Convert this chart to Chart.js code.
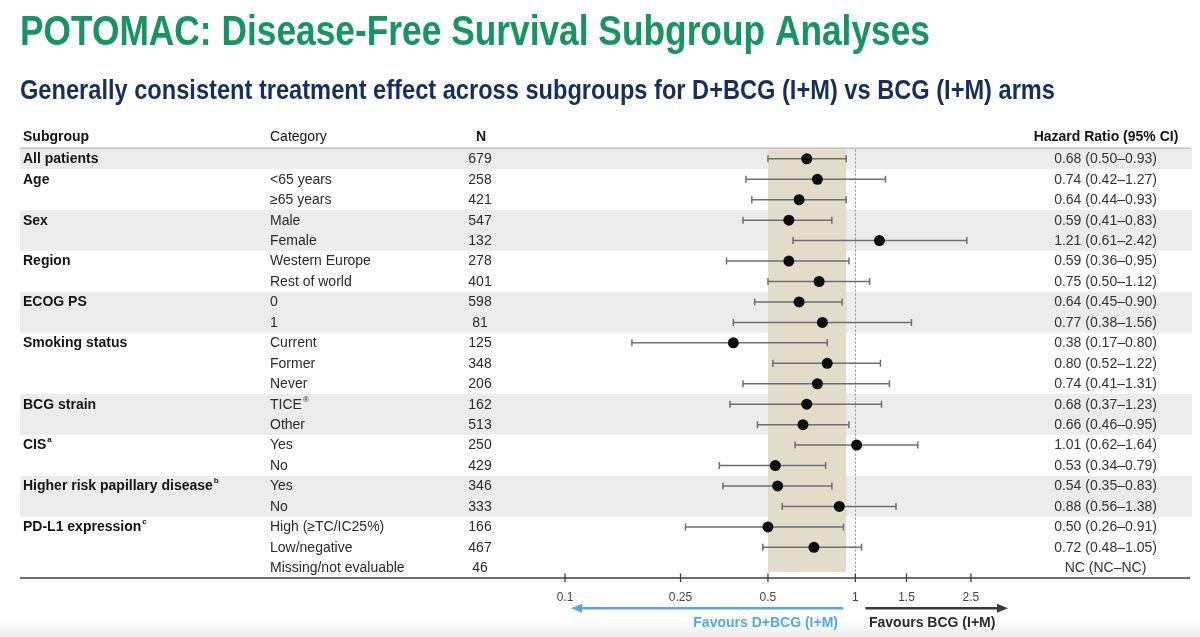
<!DOCTYPE html>
<html>
<head>
<meta charset="utf-8">
<script src="https://cdn.jsdelivr.net/npm/chart.js@4.4.1/dist/chart.umd.min.js"></script>
<style>
  html, body { margin: 0; padding: 0; background: #fff; }
  canvas { display: block; }
</style>
</head>
<body>
<canvas id="forest" width="1200" height="637"></canvas>
<script>
const FONT = '"Liberation Sans", Arial, sans-serif';

// subgroup blocks (rows are listed in order below)
const groupNames = ["All patients", "Age", "Sex", "Region", "ECOG PS", "Smoking status",
    "BCG strain", "CIS", "Higher risk papillary disease", "PD-L1 expression"];
const groupSizes = [1, 2, 2, 2, 2, 3, 2, 2, 2, 3];
const groupNotes = ["", "", "", "", "", "", "", "a", "b", "c"];

const categories = ["", "<65 years", "≥65 years", "Male", "Female", "Western Europe", "Rest of world",
    "0", "1", "Current", "Former", "Never", "TICE", "Other", "Yes", "No", "Yes", "No",
    "High (≥TC/IC25%)", "Low/negative", "Missing/not evaluable"];
const categoryNotes = ["", "", "", "", "", "", "", "", "", "", "", "", "®", "", "", "", "", "", "", "", ""];
const nValues = [679, 258, 421, 547, 132, 278, 401, 598, 81, 125, 348, 206, 162, 513, 250, 429, 346, 333, 166, 467, 46];

const hazardRatio = [0.68, 0.74, 0.64, 0.59, 1.21, 0.59, 0.75, 0.64, 0.77, 0.38, 0.80, 0.74, 0.68, 0.66, 1.01, 0.53, 0.54, 0.88, 0.50, 0.72, null];
const ciLower = [0.50, 0.42, 0.44, 0.41, 0.61, 0.36, 0.50, 0.45, 0.38, 0.17, 0.52, 0.41, 0.37, 0.46, 0.62, 0.34, 0.35, 0.56, 0.26, 0.48, null];
const ciUpper = [0.93, 1.27, 0.93, 0.83, 2.42, 0.95, 1.12, 0.90, 1.56, 0.80, 1.22, 1.31, 1.23, 0.95, 1.64, 0.79, 0.83, 1.38, 0.91, 1.05, null];

const tickValues = [0.1, 0.25, 0.5, 1, 1.5, 2.5];
const tickLabels = ["0.1", "0.25", "0.5", "1", "1.5", "2.5"];

const titleText = "POTOMAC: Disease-Free Survival Subgroup Analyses";
const subtitleText = "Generally consistent treatment effect across subgroups for D+BCG (I+M) vs BCG (I+M) arms";

function hrLabel(i) {
    if (hazardRatio[i] === null) return "NC (NC\u2013NC)";
    return `${hazardRatio[i].toFixed(2)} (${ciLower[i].toFixed(2)}\u2013${ciUpper[i].toFixed(2)})`;
}

// draw text squeezed/stretched horizontally to a given width
function fitText(ctx, text, x, y, width) {
    const w = ctx.measureText(text).width;
    ctx.save();
    ctx.translate(x, y);
    ctx.scale(width / w, 1);
    ctx.fillText(text, 0, 0);
    ctx.restore();
}

function textWithNote(ctx, text, note, x, y, size, weight) {
    ctx.font = `${weight} ${size}px ${FONT}`;
    ctx.fillText(text, x, y);
    if (!note) return;
    const w = ctx.measureText(text).width;
    ctx.font = `${weight} ${Math.round(size * 0.6)}px ${FONT}`;
    ctx.fillText(note, x + w + 1, y - size * 0.38);
}

const forestPlugin = {
    id: "forest",
    beforeDraw(chart) {
        const { ctx, chartArea } = chart;
        const xs = chart.scales.x;
        const ys = chart.scales.y;
        ctx.save();
        ctx.fillStyle = "#ffffff";
        ctx.fillRect(0, 0, chart.width, chart.height);

        const fade = ctx.createLinearGradient(0, 620, 0, 637);
        fade.addColorStop(0, "rgba(236,236,236,0)");
        fade.addColorStop(1, "rgba(236,236,236,1)");
        ctx.fillStyle = fade;
        ctx.fillRect(0, 620, chart.width, 17);

        // shaded subgroup bands
        let start = 0;
        groupSizes.forEach((size, g) => {
            if (g % 2 === 0) {
                const y0 = ys.getPixelForValue(start - 0.5);
                const y1 = ys.getPixelForValue(start + size - 0.5);
                ctx.fillStyle = "#ececec";
                ctx.fillRect(20, y0, 1172, y1 - y0);
            }
            start += size;
        });

        // overall CI band
        const bx0 = xs.getPixelForValue(ciLower[0]);
        const bx1 = xs.getPixelForValue(ciUpper[0]);
        const by0 = ys.getPixelForValue(-0.45);
        const by1 = ys.getPixelForValue(20.2);
        ctx.fillStyle = "#e2dccb";
        ctx.fillRect(bx0, by0, bx1 - bx0, by1 - by0);

        // reference line at HR = 1
        const x1 = xs.getPixelForValue(1);
        ctx.strokeStyle = "#8c8c8c";
        ctx.lineWidth = 1;
        ctx.setLineDash([2, 2]);
        ctx.beginPath();
        ctx.moveTo(Math.round(x1) + 0.5, by0);
        ctx.lineTo(Math.round(x1) + 0.5, chartArea.bottom);
        ctx.stroke();
        ctx.setLineDash([]);

        // header rule
        ctx.strokeStyle = "#c2c2c2";
        ctx.lineWidth = 1.5;
        ctx.beginPath();
        ctx.moveTo(20, 148.3);
        ctx.lineTo(1191, 148.3);
        ctx.stroke();
        ctx.restore();
    },
    beforeDatasetsDraw(chart) {
        const { ctx } = chart;
        const xs = chart.scales.x;
        const ys = chart.scales.y;
        ctx.save();
        ctx.strokeStyle = "#6e6e6e";
        ctx.lineWidth = 1.5;
        hazardRatio.forEach((v, i) => {
            if (v === null) return;
            const y = ys.getPixelForValue(i);
            const xl = xs.getPixelForValue(ciLower[i]);
            const xr = xs.getPixelForValue(ciUpper[i]);
            ctx.beginPath();
            ctx.moveTo(xl, y);
            ctx.lineTo(xr, y);
            ctx.moveTo(xl, y - 3.5);
            ctx.lineTo(xl, y + 3.5);
            ctx.moveTo(xr, y - 3.5);
            ctx.lineTo(xr, y + 3.5);
            ctx.stroke();
        });
        ctx.restore();
    },
    afterDraw(chart) {
        const { ctx, chartArea } = chart;
        const xs = chart.scales.x;
        const ys = chart.scales.y;
        ctx.save();

        // titles
        ctx.textBaseline = "alphabetic";
        ctx.textAlign = "left";
        ctx.fillStyle = "#169461";
        ctx.font = `bold 42px ${FONT}`;
        fitText(ctx, titleText, 20, 45, 910);
        ctx.fillStyle = "#16305c";
        ctx.font = `bold 28px ${FONT}`;
        fitText(ctx, subtitleText, 20, 99, 1035);

        // column headers
        ctx.textBaseline = "middle";
        ctx.fillStyle = "#141414";
        ctx.font = `bold 14px ${FONT}`;
        ctx.textAlign = "left";
        ctx.fillText("Subgroup", 23, 137);
        ctx.font = `14px ${FONT}`;
        ctx.fillText("Category", 270, 137);
        ctx.textAlign = "center";
        ctx.font = `bold 14px ${FONT}`;
        ctx.fillText("N", 481, 137);
        ctx.fillText("Hazard Ratio (95% CI)", 1106, 137);

        // subgroup names
        let start = 0;
        ctx.textAlign = "left";
        groupNames.forEach((name, g) => {
            const y = ys.getPixelForValue(start) + 0.5;
            ctx.fillStyle = "#141414";
            textWithNote(ctx, name, groupNotes[g], 23, y, 14, "bold");
            start += groupSizes[g];
        });

        // row texts
        categories.forEach((cat, i) => {
            const y = ys.getPixelForValue(i) + 0.5;
            ctx.fillStyle = "#2a2a2a";
            ctx.textAlign = "left";
            textWithNote(ctx, cat, categoryNotes[i], 270, y, 14, "normal");
            ctx.textAlign = "center";
            ctx.font = `14px ${FONT}`;
            ctx.fillText(String(nValues[i]), 480, y);
            ctx.fillStyle = "#333333";
            ctx.fillText(hrLabel(i), 1105.5, y);
        });

        // axis line and tick marks
        const yAxis = chartArea.bottom;
        ctx.strokeStyle = "#3c3c3c";
        ctx.lineWidth = 1.5;
        ctx.beginPath();
        ctx.moveTo(20, yAxis);
        ctx.lineTo(1190, yAxis);
        ctx.stroke();
        ctx.lineWidth = 1.3;
        tickValues.forEach((v) => {
            const x = xs.getPixelForValue(v);
            ctx.beginPath();
            ctx.moveTo(x, yAxis - 4.5);
            ctx.lineTo(x, yAxis + 4);
            ctx.stroke();
        });

        // direction arrows
        const x1 = xs.getPixelForValue(1);
        const ay = 608.3;
        ctx.strokeStyle = "#55a9e2";
        ctx.fillStyle = "#55a9e2";
        ctx.lineWidth = 2.5;
        ctx.beginPath();
        ctx.moveTo(x1 - 12, ay);
        ctx.lineTo(580, ay);
        ctx.stroke();
        ctx.beginPath();
        ctx.moveTo(571, ay);
        ctx.lineTo(582, ay - 4.5);
        ctx.lineTo(582, ay + 4.5);
        ctx.closePath();
        ctx.fill();
        ctx.font = `bold 14px ${FONT}`;
        ctx.textAlign = "right";
        ctx.fillText("Favours D+BCG (I+M)", 838, 623.5);

        ctx.strokeStyle = "#3a3a3a";
        ctx.fillStyle = "#3a3a3a";
        ctx.beginPath();
        ctx.moveTo(x1 + 10, ay);
        ctx.lineTo(998, ay);
        ctx.stroke();
        ctx.beginPath();
        ctx.moveTo(1008, ay);
        ctx.lineTo(997, ay - 4.5);
        ctx.lineTo(997, ay + 4.5);
        ctx.closePath();
        ctx.fill();
        ctx.fillStyle = "#2a2a2a";
        ctx.textAlign = "left";
        ctx.fillText("Favours BCG (I+M)", 869, 623.5);

        ctx.restore();
    },
};

const points = [];
hazardRatio.forEach((v, i) => {
    if (v !== null) points.push({ x: v, y: i });
});

new Chart(document.getElementById("forest"), {
    type: "scatter",
    data: {
        datasets: [
            {
                label: "Hazard ratio",
                data: points,
                pointRadius: 5.5,
                pointBackgroundColor: "#0b0b0b",
                pointBorderColor: "#0b0b0b",
                pointBorderWidth: 0,
            },
        ],
    },
    options: {
        responsive: false,
        animation: false,
        layout: {
            padding: { left: 520, right: 169.8, top: 148.6, bottom: 0 },
        },
        plugins: {
            legend: { display: false },
            tooltip: { enabled: false },
        },
        scales: {
            x: {
                type: "logarithmic",
                min: 0.07,
                max: 4,
                afterBuildTicks: (scale) => {
                    scale.ticks = tickValues.map((v) => ({ value: v }));
                },
                afterFit: (scale) => {
                    scale.height = 59;
                },
                grid: { display: false, drawTicks: false },
                border: { display: false },
                ticks: {
                    autoSkip: false,
                    maxRotation: 0,
                    padding: 12,
                    color: "#444444",
                    font: { size: 12, family: FONT },
                    callback: (value, index) => tickLabels[index],
                },
            },
            y: {
                type: "linear",
                display: false,
                reverse: true,
                min: -0.5,
                max: 20.5,
            },
        },
    },
    plugins: [forestPlugin],
});
</script>
</body>
</html>
